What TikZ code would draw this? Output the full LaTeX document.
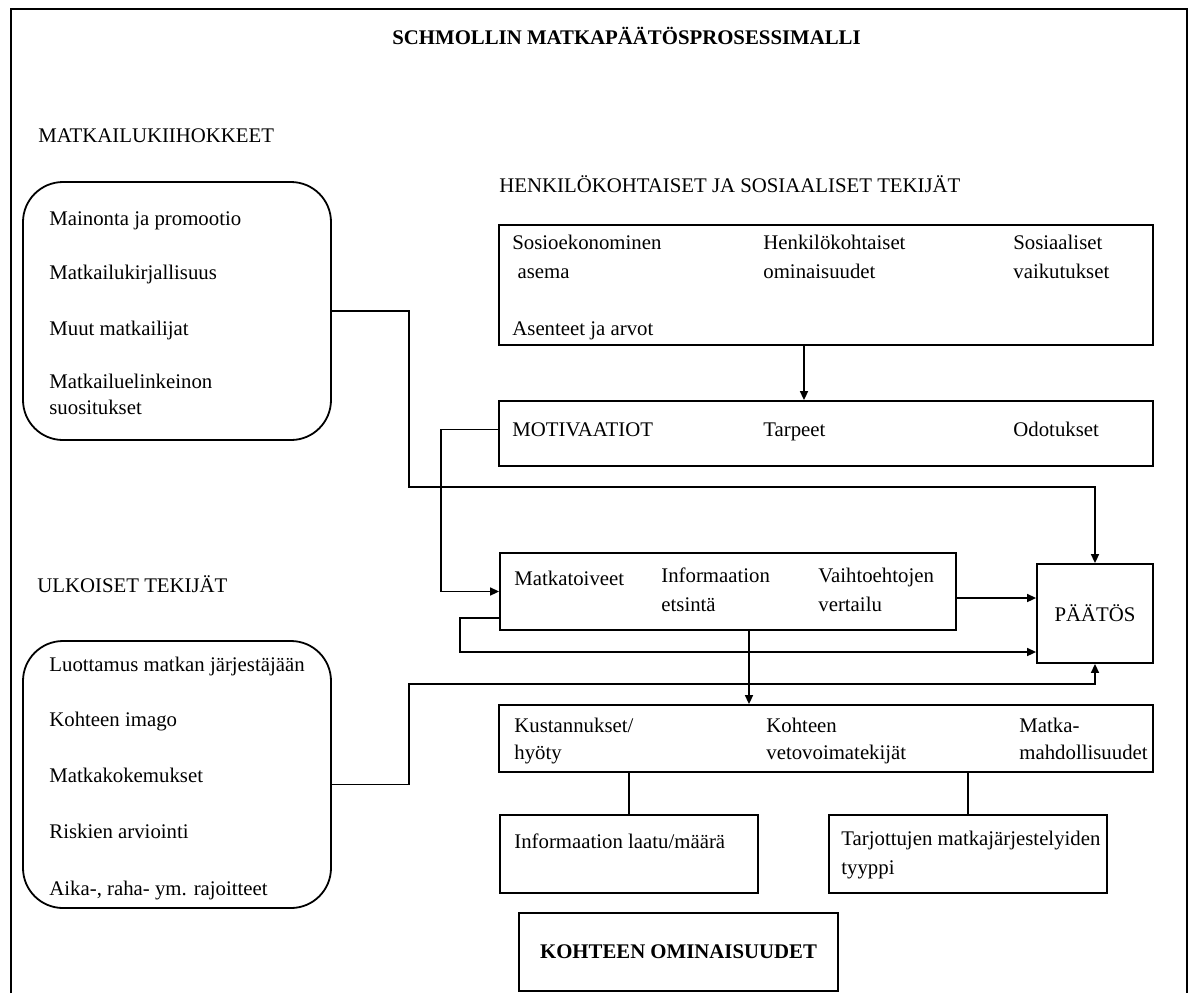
\documentclass[tikz,border=0pt]{standalone}
\usepackage{fontspec}
\setmainfont{Liberation Serif}
\usetikzlibrary{arrows.meta}

\begin{document}
\begin{tikzpicture}[x=0.5pt,y=-0.5pt,
    laatikko/.style={draw,line width=0.9pt,inner sep=0pt},
    pyorea/.style={laatikko,rounded corners=20pt},
    teksti/.style={anchor=west,inner sep=0pt,align=left,yshift=-1pt,font=\fontsize{10.4}{14.5}\selectfont,
      execute at begin node=\strut,execute at end node=\strut},
    nuoli/.style={line width=0.8pt,-{Triangle[length=4.5pt,width=4pt]}},
    viiva/.style={line width=0.8pt},
    kehys/.style={line width=1.4pt}]
    \useasboundingbox (0,0) rectangle (1196,993);
    % kehys
    \draw[kehys] (11,993) -- (11,9) -- (1187,9) -- (1187,993);
    \node[teksti,font=\fontsize{10.4}{12}\selectfont\bfseries] (otsikko) at (392,37) {SCHMOLLIN MATKAPÄÄTÖSPROSESSIMALLI};

    % matkailukiihokkeet
    \node[teksti] (kiihotsake) at (38,135) {MATKAILUKIIHOKKEET};
    \node[pyorea,minimum width=154pt,minimum height=129pt] (kiih) at (177,311) {};
    \node[teksti] (mainonta) at (49,218) {Mainonta ja promootio};
    \node[teksti] (kirjallisuus) at (49,272) {Matkailukirjallisuus};
    \node[teksti] (muut) at (49,328) {Muut matkailijat};
    \node[teksti,font=\fontsize{10.4}{13}\selectfont] (suositukset) at (49,396) {Matkailuelinkeinon\\suositukset};

    % ulkoiset tekijat
    \node[teksti] (ulkotsake) at (37,585) {ULKOISET TEKIJÄT};
    \node[pyorea,minimum width=154pt,minimum height=133.5pt] (ulk) at (177,774.5) {};
    \node[teksti] (luottamus) at (49,664) {Luottamus matkan järjestäjään};
    \node[teksti] (imago) at (49,719) {Kohteen imago};
    \node[teksti] (kokemukset) at (49,775) {Matkakokemukset};
    \node[teksti] (riskit) at (49,831) {Riskien arviointi};
    \node[teksti] (rajoitteet) at (49,888) {Aika-, raha- ym. rajoitteet};

    % henkilokohtaiset ja sosiaaliset tekijat
    \node[teksti] (henkotsake) at (499,185) {HENKILÖKOHTAISET JA SOSIAALISET TEKIJÄT};
    \node[laatikko,minimum width=327pt,minimum height=60pt] (henk) at (826,285) {};
    \node[teksti] (sosioek) at (512,259.5) {Sosioekonominen\\\hspace{0.25em}asema};
    \node[teksti] (ominaisuudet) at (763,259.5) {Henkilökohtaiset\\ominaisuudet};
    \node[teksti] (vaikutukset) at (1013,259.5) {Sosiaaliset\\vaikutukset};
    \node[teksti] (asenteet) at (512,328) {Asenteet ja arvot};

    \node[laatikko,minimum width=327pt,minimum height=32.5pt] (motiv) at (826,433.5) {};
    \node[teksti] (motivaatiot) at (512,429) {MOTIVAATIOT};
    \node[teksti] (tarpeet) at (763,429) {Tarpeet};
    \node[teksti] (odotukset) at (1013,429) {Odotukset};

    % paatosprosessi
    \node[laatikko,minimum width=228pt,minimum height=38.5pt] (prosessi) at (728,591.5) {};
    \node[teksti] (toiveet) at (514,578) {Matkatoiveet};
    \node[teksti] (etsinta) at (661,592.5) {Informaation\\etsintä};
    \node[teksti] (vertailu) at (818,592.5) {Vaihtoehtojen\\vertailu};
    \node[laatikko,minimum width=58pt,minimum height=49.5pt,font=\fontsize{10.4}{12}\selectfont] (paatos) at (1095,613.5) {PÄÄTÖS};

    % kohteen ominaisuudet
    \node[laatikko,minimum width=327pt,minimum height=33.5pt] (kust) at (826,738.5) {};
    \node[teksti,font=\fontsize{10.4}{13.5}\selectfont] (hyoty) at (514,740.5) {Kustannukset/\\hyöty};
    \node[teksti,font=\fontsize{10.4}{13.5}\selectfont] (veto) at (766,740.5) {Kohteen\\vetovoimatekijät};
    \node[teksti,font=\fontsize{10.4}{13.5}\selectfont] (mahd) at (1019,740.5) {Matka-\\mahdollisuudet};
    \node[laatikko,minimum width=129pt,minimum height=39pt] (info) at (629,854) {};
    \node[teksti] (laatu) at (514,841) {Informaation laatu/määrä};
    \node[laatikko,minimum width=139pt,minimum height=39pt] (tarj) at (968,854) {};
    \node[teksti] (tyyppi) at (841,855.5) {Tarjottujen matkajärjestelyiden\\tyyppi};
    \node[laatikko,minimum width=159.5pt,minimum height=39pt,font=\fontsize{10.4}{12}\selectfont\bfseries] (kohde) at (678.5,952) {KOHTEEN OMINAISUUDET};

    % yhteydet
    \coordinate (k1) at (409,487);
    \coordinate (k3) at (441,591.5);
    \coordinate (k4) at (956,598);
    \coordinate (k6) at (460,652);
    \coordinate (k7) at (749,0);
    \coordinate (k8) at (409,684);
    \draw[nuoli] (kiih.east) -| (k1) -| (paatos.north);
    \draw[nuoli] ([xshift=-11pt]henk.south) -- ([xshift=-11pt]motiv.north);
    \draw[nuoli] ([yshift=2pt]motiv.west) -| (k3) -- (prosessi.west);
    \draw[nuoli] (k4) -- (k4 -| paatos.west);
    \draw[nuoli] ([yshift=-13.25pt]prosessi.west) -| (k6) -- (k6 -| paatos.west);
    \draw[nuoli] (prosessi.south -| k7) -- (kust.north -| k7);
    \draw[viiva] (info.north) -- (info.north |- kust.south);
    \draw[viiva] (tarj.north) -- (tarj.north |- kust.south);
    \draw[nuoli] ([yshift=-5pt]ulk.east) -| (k8) -| (paatos.south);
\end{tikzpicture}
\end{document}
